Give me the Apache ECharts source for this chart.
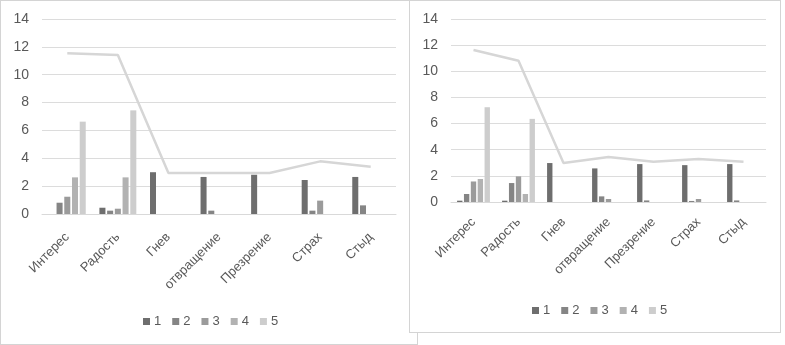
<!DOCTYPE html>
<html>
<head>
<meta charset="utf-8">
<script src="https://cdn.jsdelivr.net/npm/echarts@6/dist/echarts.min.js"></script>
<style>
  html, body { margin: 0; padding: 0; background: #fff; }
  .box { position: absolute; background: #fff; border: 1px solid #d4d4d4; }
  #left { left: 0; top: 0; width: 416px; height: 343px; }
  #right { left: 409px; top: 0; width: 370px; height: 331px; }
</style>
</head>
<body>
<div id="left" class="box"></div>
<div id="right" class="box"></div>
<script>
const categories = ['Интерес', 'Радость', 'Гнев', 'отвращение', 'Презрение', 'Страх', 'Стыд']
const seriesNames = ['1', '2', '3', '4', '5']
const yTicks = [0, 2, 4, 6, 8, 10, 12, 14]

// левая диаграмма
const left1 = [0, 0.45, 3.0, 2.66, 2.82, 2.44, 2.66]
const left2 = [0.81, 0.24, 0, 0.24, 0, 0.24, 0.62]
const left3 = [1.24, 0.38, 0, 0, 0, 0.96, 0]
const left4 = [2.63, 2.63, 0, 0, 0, 0, 0]
const left5 = [6.63, 7.44, 0, 0, 0, 0, 0]
const leftLine = [11.54, 11.41, 2.95, 2.95, 2.95, 3.78, 3.40]

// правая диаграмма
const right1 = [0.1, 0.1, 2.98, 2.57, 2.9, 2.82, 2.9]
const right2 = [0.61, 1.45, 0, 0.43, 0.12, 0.08, 0.12]
const right3 = [1.57, 1.96, 0, 0.23, 0, 0.23, 0]
const right4 = [1.76, 0.61, 0, 0, 0, 0, 0]
const right5 = [7.25, 6.36, 0, 0, 0, 0, 0]
const rightLine = [11.63, 10.81, 2.98, 3.44, 3.08, 3.29, 3.08]

const BAR_COLORS = ['#6e6e6e', '#858585', '#9b9b9b', '#b2b2b2', '#cdcdcd']
const LINE_COLOR = '#d6d6d6'
const FONT = 'Liberation Sans'

function buildOption(bars, line, layout) {
  const series = bars.map((data, i) => ({
    name: seriesNames[i],
    type: 'bar',
    data,
    barGap: '28%',
    barCategoryGap: '27%',
    itemStyle: { color: BAR_COLORS[i] }
  }))
  series.push({
    name: 'sum',
    type: 'line',
    data: line,
    symbol: 'none',
    z: 5,
    lineStyle: { color: LINE_COLOR, width: 2.5 },
    itemStyle: { color: LINE_COLOR }
  })

  return {
    animation: false,
    backgroundColor: '#fff',
    textStyle: { fontFamily: FONT },
    grid: layout.grid,
    legend: {
      data: seriesNames,
      left: layout.legendLeft,
      top: layout.legendTop,
      itemWidth: 7,
      itemHeight: 7,
      itemGap: 11,
      icon: 'rect',
      textStyle: { fontSize: 13, color: '#595959', fontFamily: FONT, padding: [0, 0, 0, -1] }
    },
    xAxis: {
      type: 'category',
      data: categories,
      axisTick: { show: false },
      axisLine: { lineStyle: { color: '#d9d9d9' } },
      axisLabel: { rotate: 45, margin: layout.labelMargin, fontSize: 13, color: '#595959', interval: 0 }
    },
    yAxis: {
      type: 'value',
      min: yTicks[0],
      max: yTicks[yTicks.length - 1],
      interval: 2,
      axisLine: { show: false },
      axisTick: { show: false },
      axisLabel: { fontSize: 14, color: '#595959', margin: 13 },
      splitLine: { lineStyle: { color: '#dcdcdc' } }
    },
    series
  }
}

const leftChart = echarts.init(document.getElementById('left'))
leftChart.setOption(buildOption(
  [left1, left2, left3, left4, left5], leftLine,
  { grid: { left: 41, top: 18, width: 354, height: 195 }, legendLeft: 137, legendTop: 309, labelMargin: 21 }
))

const rightChart = echarts.init(document.getElementById('right'))
rightChart.setOption(buildOption(
  [right1, right2, right3, right4, right5], rightLine,
  { grid: { left: 41, top: 18, width: 315, height: 183 }, legendLeft: 117, legendTop: 298, labelMargin: 18 }
))
</script>
</body>
</html>
